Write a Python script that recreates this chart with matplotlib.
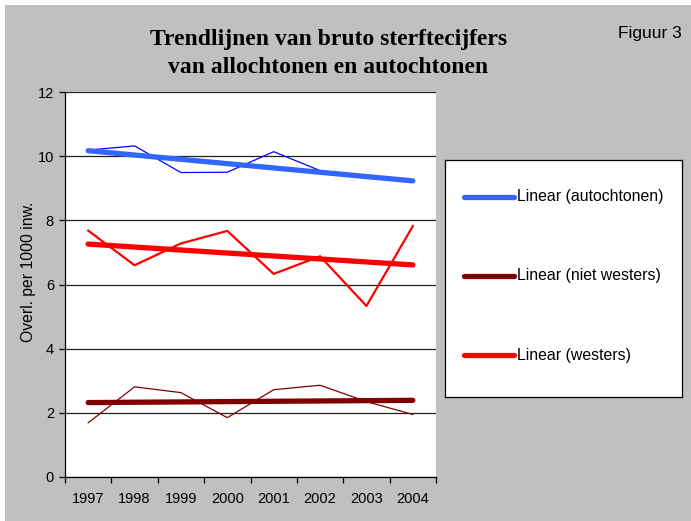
import numpy as np
import matplotlib
matplotlib.use("Agg")
import matplotlib.pyplot as plt
from matplotlib.lines import Line2D
from matplotlib.patches import Rectangle

# values (deaths per 1000 inhabitants)
years = ["1997", "1998", "1999", "2000", "2001", "2002", "2003", "2004"]
autochtonen = [10.19, 10.32, 9.49, 9.50, 10.14, 9.55, 9.40, 9.22]
westers = [7.68, 6.60, 7.28, 7.67, 6.33, 6.88, 5.33, 7.82]
niet_westers = [1.69, 2.81, 2.63, 1.85, 2.72, 2.86, 2.35, 1.95]

# linear trend lines, start (1997) and end (2004)
trend_autochtonen = [10.17, 9.23]
trend_westers = [7.26, 6.61]
trend_niet_westers = [2.32, 2.39]

legend_labels = ["Linear (autochtonen)", "Linear (niet westers)", "Linear (westers)"]

blue = "#0000FF"
blue_trend = "#3366FF"
red = "#FF0000"
darkred = "#800000"
grey = "#C0C0C0"

plt.rcParams["font.family"] = ["Liberation Sans", "DejaVu Sans"]

fig = plt.figure(figsize=(6.91, 5.21), dpi=100)
fig.patch.set_facecolor(grey)

# white margin at top/left like the screenshot
fig.patches.append(Rectangle((0, 1 - 5 / 521), 1, 5 / 521, transform=fig.transFigure,
                             facecolor="white", edgecolor="none"))
fig.patches.append(Rectangle((0, 0), 5 / 691, 1, transform=fig.transFigure,
                             facecolor="white", edgecolor="none"))

ax = fig.add_axes([65 / 691, 1 - 477 / 521, (436 - 65) / 691, (477 - 92) / 521])
ax.set_facecolor("white")

x = np.arange(len(years))

ax.plot(x, autochtonen, color=blue, lw=0.9, zorder=3)
ax.plot(x, westers, color=red, lw=1.6, zorder=3)
ax.plot(x, niet_westers, color=darkred, lw=0.9, zorder=3)

ends = [x[0], x[-1]]
ax.plot(ends, trend_autochtonen, color=blue_trend, lw=3.8, solid_capstyle="round", zorder=4)
ax.plot(ends, trend_niet_westers, color=darkred, lw=3.8, solid_capstyle="round", zorder=4)
ax.plot(ends, trend_westers, color=red, lw=3.8, solid_capstyle="round", zorder=4)

ax.set_xlim(-0.5, len(years) - 0.5)
ax.set_ylim(0, 12)
ax.set_yticks(np.arange(0, 13, 2))
ax.yaxis.grid(True, color="#202020", lw=0.9)
ax.set_axisbelow(True)

# category labels centered, tick marks between categories
ax.set_xticks(x)
ax.set_xticklabels(years)
ax.set_xticks(np.arange(-0.5, len(years), 1), minor=True)
ax.tick_params(axis="x", which="major", length=0, pad=11, labelsize=10.5)
ax.tick_params(axis="x", which="minor", length=4, width=0.9, direction="out")
ax.tick_params(axis="y", length=4, width=0.9, direction="out", pad=4, labelsize=10.5)

for s in ["top", "right"]:
    ax.spines[s].set_visible(False)
for s in ["left", "bottom"]:
    ax.spines[s].set_color("black")
    ax.spines[s].set_linewidth(0.9)

fig.text(29 / 691, 1 - 272 / 521, "Overl. per 1000 inw.", rotation=90,
         ha="center", va="center", fontsize=11.3)

# title
fig.text(328.5 / 691, 1 - 45 / 521, "Trendlijnen van bruto sterftecijfers",
         ha="center", va="baseline", fontsize=17, fontweight="bold",
         family=["Liberation Serif", "DejaVu Serif"])
fig.text(328.5 / 691, 1 - 73 / 521, "van allochtonen en autochtonen",
         ha="center", va="baseline", fontsize=17, fontweight="bold",
         family=["Liberation Serif", "DejaVu Serif"])
fig.text(682 / 691, 1 - 38 / 521, "Figuur 3", ha="right", va="baseline", fontsize=12.5)

# legend box
lax = fig.add_axes([445 / 691, 1 - 397 / 521, (682 - 445) / 691, (397 - 160) / 521])
lax.set_xlim(0, 1)
lax.set_ylim(0, 1)
lax.set_xticks([])
lax.set_yticks([])
lax.set_facecolor("white")
for s in lax.spines.values():
    s.set_color("black")
    s.set_linewidth(0.9)

rows = [0.844, 0.511, 0.177]
colors = [blue_trend, darkred, red]
for yy, c, lab in zip(rows, colors, legend_labels):
    lax.add_line(Line2D([0.08, 0.29], [yy, yy], color=c, lw=3.8, solid_capstyle="round"))
    lax.text(0.305, yy, lab, va="center", ha="left", fontsize=11.4)

fig.savefig("out.png", dpi=100, facecolor=fig.get_facecolor())
